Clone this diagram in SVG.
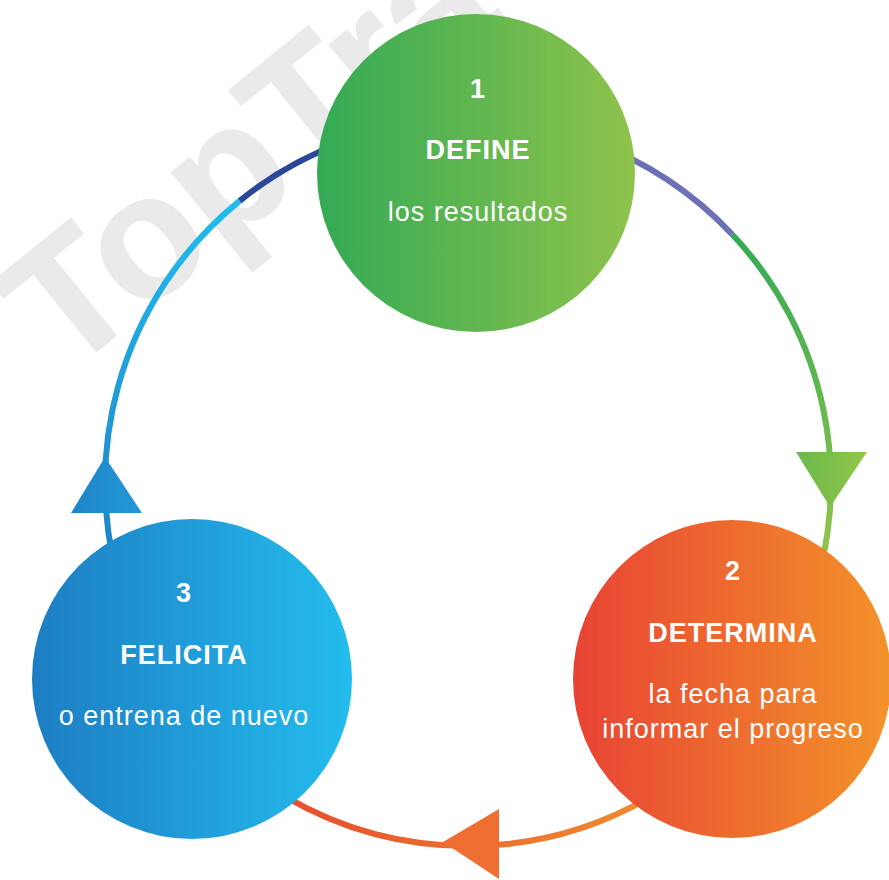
<svg xmlns="http://www.w3.org/2000/svg" width="889" height="880" viewBox="0 0 889 880">
  <defs>
    <linearGradient id="gGreen" x1="0" y1="0" x2="1" y2="0">
      <stop offset="0" stop-color="#33AA55"/>
      <stop offset="1" stop-color="#8FC34C"/>
    </linearGradient>
    <linearGradient id="gOrange" x1="0" y1="0" x2="1" y2="0">
      <stop offset="0" stop-color="#E84334"/>
      <stop offset="1" stop-color="#F3932A"/>
    </linearGradient>
    <linearGradient id="gBlue" x1="0" y1="0" x2="1" y2="0">
      <stop offset="0" stop-color="#1D7DC3"/>
      <stop offset="1" stop-color="#24BCED"/>
    </linearGradient>
    <linearGradient id="sBlue" gradientUnits="userSpaceOnUse" x1="0" y1="200" x2="0" y2="540">
      <stop offset="0" stop-color="#22BCEE"/>
      <stop offset="1" stop-color="#1E86C8"/>
    </linearGradient>
    <linearGradient id="sGreen" gradientUnits="userSpaceOnUse" x1="0" y1="233" x2="0" y2="540">
      <stop offset="0" stop-color="#33AA54"/>
      <stop offset="1" stop-color="#8CC44B"/>
    </linearGradient>
    <linearGradient id="sOrange" gradientUnits="userSpaceOnUse" x1="290" y1="0" x2="650" y2="0">
      <stop offset="0" stop-color="#E4502E"/>
      <stop offset="1" stop-color="#F18C30"/>
    </linearGradient>
    <linearGradient id="aGreen" gradientUnits="userSpaceOnUse" x1="796" y1="0" x2="867" y2="0">
      <stop offset="0" stop-color="#6AB84C"/>
      <stop offset="1" stop-color="#93C64A"/>
    </linearGradient>
    <linearGradient id="aBlue" gradientUnits="userSpaceOnUse" x1="71" y1="0" x2="142" y2="0">
      <stop offset="0" stop-color="#1E84C8"/>
      <stop offset="1" stop-color="#2399D8"/>
    </linearGradient>
  </defs>
  <style>
    .wm { font-family: "Liberation Sans", Arial, sans-serif; font-weight: bold; font-size: 174px; fill: #EAEAEA; stroke: #EAEAEA; stroke-width: 1.5; stroke-linejoin: round; }
    .ring { fill: none; stroke-width: 6; }
    .num { font-family: "Liberation Sans", Arial, sans-serif; font-weight: bold; font-size: 27px; fill: #FFFFFF; text-anchor: middle; letter-spacing: 1px; }
    .title { font-family: "Liberation Sans", Arial, sans-serif; font-weight: bold; font-size: 27px; fill: #FFFFFF; text-anchor: middle; letter-spacing: 1px; }
    .desc { font-family: "Liberation Sans", Arial, sans-serif; font-size: 27px; fill: #FFFFFF; text-anchor: middle; letter-spacing: 1px; }
  </style>

  <rect width="889" height="880" fill="#FFFFFF"/>

  <text class="wm" transform="translate(65 377) rotate(-39)">TopTra</text>

  <g id="connectors">
    <!-- ring centre (468,483), r 363 -->
    <path class="ring" stroke="url(#sBlue)" d="M 126.9 607.2 A 363 363 0 0 1 239.7 200.8"/>
    <path class="ring" stroke="#2B4798" d="M 239.7 200.8 A 363 363 0 0 1 343.9 141.9"/>
    <path class="ring" stroke="#6C70B5" d="M 592.1 141.9 A 363 363 0 0 1 732.3 234.5"/>
    <path class="ring" stroke="url(#sGreen)" d="M 732.3 234.5 A 363 363 0 0 1 809.1 607.2"/>
    <path class="ring" stroke="url(#sOrange)" d="M 649.5 797.4 A 363 363 0 0 1 286.5 797.4"/>
    <polygon fill="url(#aGreen)" points="796,452 867,452 830,507"/>
    <polygon fill="url(#aBlue)" points="105,457 142,513 71,513"/>
    <polygon fill="#EE6D31" points="443,842 499,809 499,879"/>
  </g>

  <g id="node1">
    <circle cx="476" cy="173" r="159" fill="url(#gGreen)"/>
    <text class="num" x="478" y="98">1</text>
    <text class="title" x="478" y="159">DEFINE</text>
    <text class="desc" x="478" y="221">los resultados</text>
  </g>

  <g id="node2">
    <circle cx="732" cy="679" r="159" fill="url(#gOrange)"/>
    <text class="num" x="733" y="580">2</text>
    <text class="title" x="733" y="642">DETERMINA</text>
    <text class="desc" x="733" y="703">la fecha para</text>
    <text class="desc" x="733" y="738">informar el progreso</text>
  </g>

  <g id="node3">
    <circle cx="192" cy="679" r="160" fill="url(#gBlue)"/>
    <text class="num" x="184" y="602">3</text>
    <text class="title" x="184" y="664">FELICITA</text>
    <text class="desc" x="184" y="725">o entrena de nuevo</text>
  </g>
</svg>
